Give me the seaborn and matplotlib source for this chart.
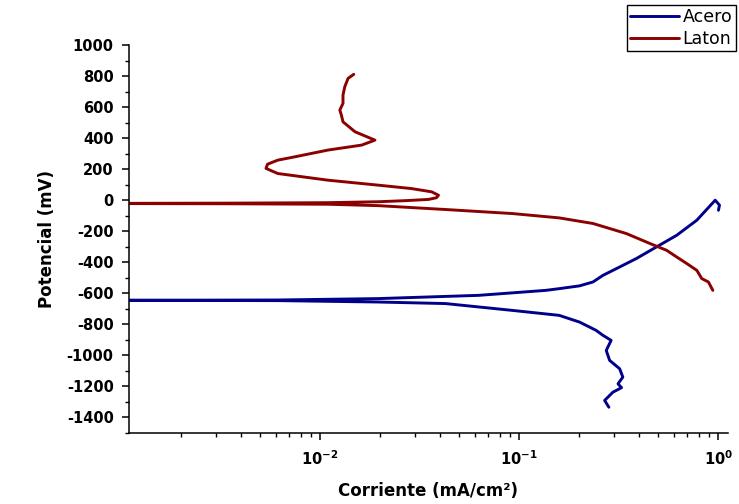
import numpy as np
import pandas as pd
import matplotlib
matplotlib.use('Agg')
import matplotlib.pyplot as plt
import matplotlib.ticker as mticker
import seaborn as sns

# Laton (brass): cathodic branch -> Ecorr -> anodic branch
laton_i = [0.940, 0.893, 0.827, 0.781, 0.695, 0.619, 0.551, 0.454, 0.346, 0.235,
           0.159, 0.0925, 0.0427, 0.0196, 0.01097, 0.00343, 0.0005,
           0.00343, 0.01097, 0.0196, 0.0268, 0.0351, 0.0385, 0.0394, 0.0364,
           0.0288, 0.0196, 0.01097, 0.00614, 0.00536, 0.00546, 0.00614, 0.00745,
           0.01097, 0.0162, 0.0189, 0.0175, 0.0150, 0.01306, 0.01282, 0.01259,
           0.01306, 0.01306, 0.01333, 0.01385, 0.01479]
laton_e = [-581, -527, -505, -452, -408, -366, -323, -279, -215, -150,
           -114, -86, -60, -35, -26, -23, -21,
           -19, -16, -10, -3, 5, 16, 32, 54,
           75, 97, 129, 172, 205, 232, 258, 279,
           323, 355, 387, 405, 441, 505, 548, 581,
           624, 677, 731, 785, 811]

# Acero (steel)
acero_i = [0.2825, 0.269, 0.296, 0.327, 0.314, 0.332, 0.320, 0.285, 0.274, 0.290,
           0.264, 0.244, 0.201, 0.159, 0.0925, 0.0427, 0.0196, 0.00614, 0.00242,
           0.0005,
           0.00242, 0.00614, 0.0196, 0.0628, 0.136, 0.159, 0.201, 0.235, 0.264,
           0.308, 0.388, 0.490, 0.619, 0.781, 0.966, 1.015, 1.003]
acero_e = [-1334, -1290, -1237, -1208, -1183, -1140, -1086, -1032, -968, -903,
           -871, -839, -785, -742, -710, -666, -656, -647, -646,
           -645,
           -644, -643, -634, -613, -581, -570, -552, -527, -484,
           -441, -376, -301, -226, -129, 0, -32, -65]

xticks = [1e-2, 1e-1, 1e0]
xtick_labels = [r'$\mathbf{10^{-2}}$', r'$\mathbf{10^{-1}}$', r'$\mathbf{10^{0}}$']

sns.set_style('ticks')
plt.rcParams['font.family'] = ['DejaVu Sans']
plt.rcParams['axes.unicode_minus'] = False
plt.rcParams['text.color'] = 'black'
plt.rcParams['axes.labelcolor'] = 'black'
plt.rcParams['xtick.color'] = 'black'
plt.rcParams['ytick.color'] = 'black'
plt.rcParams['lines.solid_joinstyle'] = 'round'
plt.rcParams['lines.solid_capstyle'] = 'round'

fig = plt.figure(figsize=(7.39, 5.04), dpi=100)
ax = fig.add_axes([129/739, 1-433/504, (728-129)/739, (433-45)/504])

sns.lineplot(x=acero_i, y=acero_e, sort=False, estimator=None, color='#00008b',
             lw=2.1, ax=ax, label='Acero')
sns.lineplot(x=laton_i, y=laton_e, sort=False, estimator=None, color='#8b0000',
             lw=2.1, ax=ax, label='Laton')

ax.set_xscale('log')
ax.set_xlim(1.1e-3, 1.12)
ax.set_ylim(-1500, 1000)
ax.yaxis.set_major_locator(mticker.MultipleLocator(200))
ax.yaxis.set_minor_locator(mticker.MultipleLocator(100))
ax.set_xticks(xticks)
ax.set_xticklabels(xtick_labels)
ax.xaxis.set_minor_locator(mticker.LogLocator(base=10, subs=np.arange(2, 10)))
ax.xaxis.set_minor_formatter(mticker.NullFormatter())

for lab in ax.get_yticklabels():
    lab.set_fontweight('bold')
ax.tick_params(axis='both', which='major', labelsize=10.5, length=5, width=1.1,
               color='black', labelcolor='black')
ax.tick_params(axis='y', which='major', pad=6)
ax.tick_params(axis='x', which='major', pad=7)
ax.tick_params(axis='both', which='minor', length=3, width=1.0, color='black')

for s in ['top', 'right']:
    ax.spines[s].set_visible(False)
for s in ['left', 'bottom']:
    ax.spines[s].set_linewidth(1.1)
    ax.spines[s].set_color('black')

ax.set_xlabel('Corriente (mA/cm²)', fontsize=12, fontweight='bold', labelpad=10)
ax.set_ylabel('Potencial (mV)', fontsize=12, fontweight='bold', labelpad=8)

ax.get_legend().remove()
handles, labels = ax.get_legend_handles_labels()
leg = fig.legend(handles, labels, loc='upper left',
                 bbox_to_anchor=(627/739, 1-5/504), borderaxespad=0,
                 fontsize=12.5, frameon=True, fancybox=False, edgecolor='black',
                 framealpha=1, handlelength=2.8, handletextpad=0.2,
                 labelspacing=0.2, borderpad=0.2)
leg.get_frame().set_linewidth(1.0)

fig.savefig('out.png', dpi=100)
